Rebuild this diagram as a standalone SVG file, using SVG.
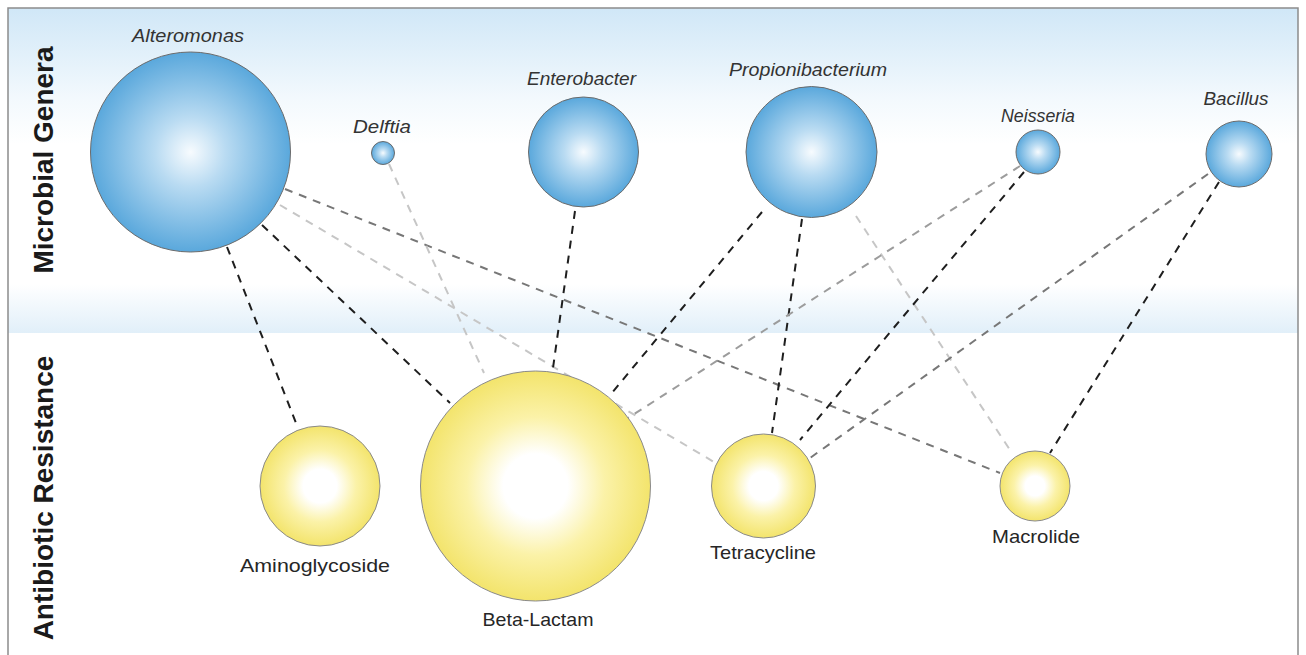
<svg xmlns="http://www.w3.org/2000/svg" width="1306" height="655" viewBox="0 0 1306 655">
  <defs>
    <linearGradient id="band" x1="0" y1="0" x2="0" y2="1">
      <stop offset="0" stop-color="#d0e7f7"/>
      <stop offset="0.28" stop-color="#f3f9fd"/>
      <stop offset="0.42" stop-color="#ffffff"/>
      <stop offset="0.85" stop-color="#ffffff"/>
      <stop offset="1" stop-color="#e1eff9"/>
    </linearGradient>
    <radialGradient id="blue" cx="0.5" cy="0.5" r="0.5">
      <stop offset="0" stop-color="#f7fbfe"/>
      <stop offset="0.35" stop-color="#b9dbf2"/>
      <stop offset="1" stop-color="#5aa8dc"/>
    </radialGradient>
    <radialGradient id="yellow" cx="0.5" cy="0.5" r="0.5">
      <stop offset="0" stop-color="#ffffff"/>
      <stop offset="0.28" stop-color="#ffffff"/>
      <stop offset="0.6" stop-color="#fbf2a8"/>
      <stop offset="1" stop-color="#f3e46c"/>
    </radialGradient>
  </defs>
  <style>
    .frame { stroke: #8c8c8c; stroke-width: 1.5; fill: none; }
    .axis { font-family: "Liberation Sans", Arial, sans-serif; font-weight: bold; font-size: 28px; fill: #1a1a1a; text-anchor: middle; }
    .genus { fill: url(#blue); stroke: #6b6b6b; stroke-width: 1; }
    .abx { fill: url(#yellow); stroke: #8a8a8a; stroke-width: 1; }
    .glabel { font-family: "Liberation Sans", Arial, sans-serif; font-style: italic; font-size: 19px; fill: #333333; text-anchor: middle; }
    .alabel { font-family: "Liberation Sans", Arial, sans-serif; font-size: 19px; fill: #262626; text-anchor: middle; }
    .c { fill: none; stroke-width: 2; stroke-dasharray: 8 7; }
    .dark { stroke: #1e1e1e; }
    .mid { stroke: #777777; }
    .gray { stroke: #9c9c9c; }
    .light { stroke: #c6c6c6; }
  </style>

  <rect x="8" y="8" width="1290" height="325" fill="url(#band)"/>
  <path class="frame" d="M8,655 L8,8 L1298,8 L1298,655"/>

  <text class="axis" x="53" y="160" transform="rotate(-90 53 160)">Microbial Genera</text>
  <text class="axis" x="53" y="498" transform="rotate(-90 53 498)">Antibiotic Resistance</text>

  <g id="connectors">
    <line class="c dark" x1="227" y1="247" x2="298" y2="428"/>
    <line class="c dark" x1="262" y1="225" x2="450" y2="403"/>
    <line class="c light" x1="280" y1="205" x2="714" y2="462"/>
    <line class="c mid" x1="285" y1="189" x2="1000" y2="473"/>
    <line class="c light" x1="389" y1="164" x2="484" y2="373"/>
    <line class="c dark" x1="575" y1="211" x2="553" y2="368"/>
    <line class="c dark" x1="762" y1="212" x2="611" y2="394"/>
    <line class="c dark" x1="802" y1="219" x2="772" y2="433"/>
    <line class="c light" x1="856" y1="216" x2="1012" y2="453"/>
    <line class="c gray" x1="1020" y1="166" x2="628" y2="418"/>
    <line class="c dark" x1="1024" y1="172" x2="800" y2="440"/>
    <line class="c mid" x1="1208" y1="174" x2="810" y2="458"/>
    <line class="c dark" x1="1219" y1="182" x2="1050" y2="453"/>
  </g>

  <g id="alteromonas">
    <circle class="genus" cx="190.5" cy="152" r="100"/>
    <text class="glabel" x="188" y="42" textLength="112" lengthAdjust="spacingAndGlyphs">Alteromonas</text>
  </g>
  <g id="delftia">
    <circle class="genus" cx="383" cy="153" r="11.5"/>
    <text class="glabel" x="382" y="133" textLength="58" lengthAdjust="spacingAndGlyphs">Delftia</text>
  </g>
  <g id="enterobacter">
    <circle class="genus" cx="583.5" cy="152" r="55"/>
    <text class="glabel" x="581.5" y="85" textLength="109" lengthAdjust="spacingAndGlyphs">Enterobacter</text>
  </g>
  <g id="propionibacterium">
    <circle class="genus" cx="811.5" cy="152" r="65.5"/>
    <text class="glabel" x="808" y="76" textLength="158" lengthAdjust="spacingAndGlyphs">Propionibacterium</text>
  </g>
  <g id="neisseria">
    <circle class="genus" cx="1038" cy="152" r="22"/>
    <text class="glabel" x="1038" y="122" textLength="74" lengthAdjust="spacingAndGlyphs">Neisseria</text>
  </g>
  <g id="bacillus">
    <circle class="genus" cx="1239" cy="154" r="33"/>
    <text class="glabel" x="1236" y="105" textLength="65" lengthAdjust="spacingAndGlyphs">Bacillus</text>
  </g>

  <g id="aminoglycoside">
    <circle class="abx" cx="320" cy="486" r="60"/>
    <text class="alabel" x="315" y="572" textLength="150" lengthAdjust="spacingAndGlyphs">Aminoglycoside</text>
  </g>
  <g id="beta-lactam">
    <circle class="abx" cx="535.5" cy="486" r="115"/>
    <text class="alabel" x="538" y="626" textLength="111" lengthAdjust="spacingAndGlyphs">Beta-Lactam</text>
  </g>
  <g id="tetracycline">
    <circle class="abx" cx="763.5" cy="486" r="52"/>
    <text class="alabel" x="763" y="559" textLength="106" lengthAdjust="spacingAndGlyphs">Tetracycline</text>
  </g>
  <g id="macrolide">
    <circle class="abx" cx="1035" cy="486" r="35"/>
    <text class="alabel" x="1036" y="543" textLength="88" lengthAdjust="spacingAndGlyphs">Macrolide</text>
  </g>
</svg>
